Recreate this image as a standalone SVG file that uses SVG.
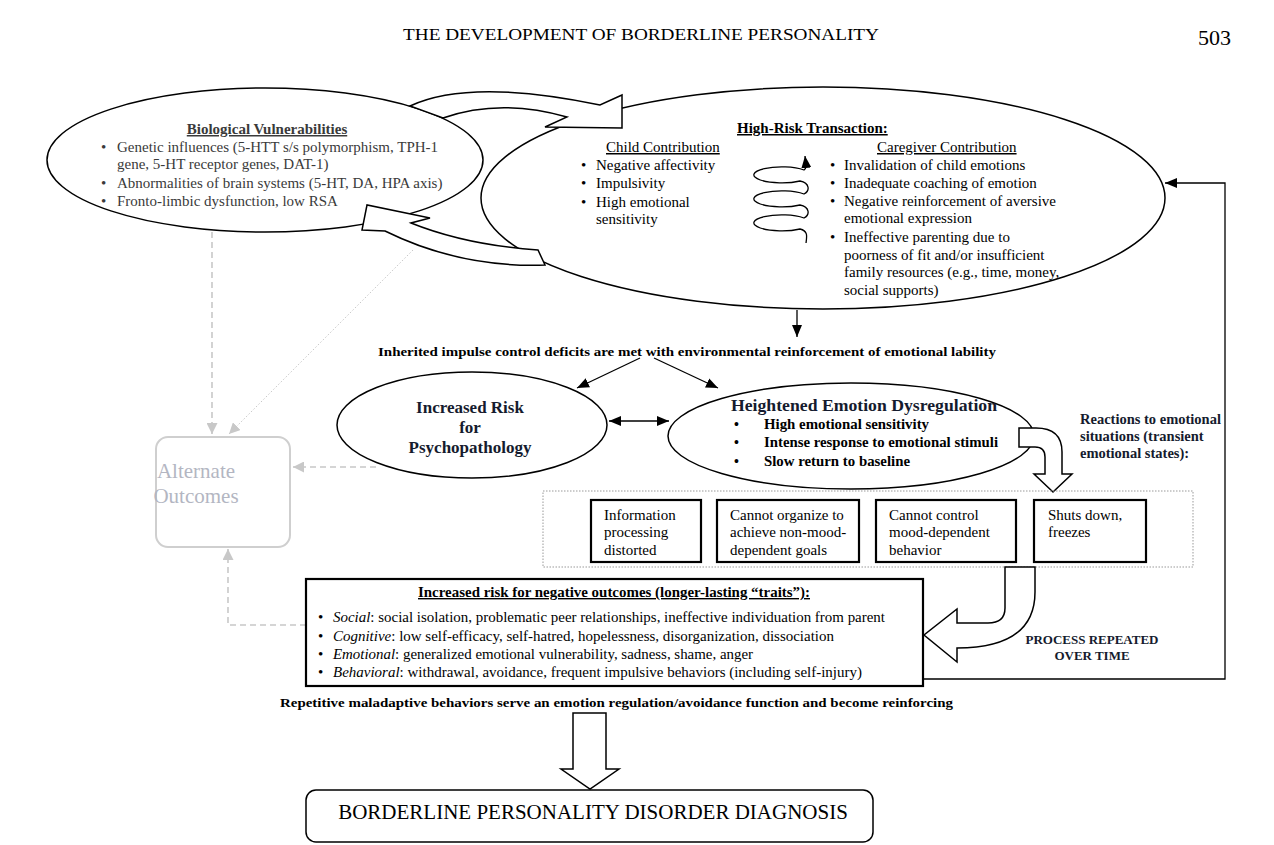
<svg xmlns="http://www.w3.org/2000/svg" width="1274" height="845" viewBox="0 0 1274 845" font-size="15">
<defs>
<marker id="ah" viewBox="0 0 12 10" refX="12" refY="5" markerWidth="12" markerHeight="10" markerUnits="userSpaceOnUse" orient="auto-start-reverse"><path d="M0,0 L12,5 L0,10 z" fill="#000"/></marker>
<marker id="ahg" viewBox="0 0 10 10" refX="10" refY="5" markerWidth="11" markerHeight="11" markerUnits="userSpaceOnUse" orient="auto"><path d="M0,0 L10,5 L0,10 z" fill="#c8c8c8"/></marker>
</defs>
<style>
text{font-family:"Liberation Serif","Times New Roman",serif;fill:#000}
.b{font-weight:bold}
.u{text-decoration:underline}
.i{font-style:italic}
.g{fill:#3a3a3a}
.shape{fill:#fff;stroke:#000;stroke-width:1.5}
.box{fill:#fff;stroke:#000;stroke-width:2.2}
.ln{fill:none;stroke:#000;stroke-width:1.3}
.gd{fill:none;stroke:#c8c8c8;stroke-width:1.6;stroke-dasharray:6 4}
.dk{fill:#151b2e}
.alt{fill:#b3b6c2}
</style>
<rect width="1274" height="845" fill="#fff"/>
<text x="641" y="40" text-anchor="middle" font-size="16" textLength="476" lengthAdjust="spacingAndGlyphs">THE DEVELOPMENT OF BORDERLINE PERSONALITY</text>
<text x="1198" y="45" font-size="22">503</text>

<g id="connectors">
<path class="gd" d="M212,232 L212,434" marker-end="url(#ahg)"/>
<path d="M413,250 L229,434" fill="none" stroke="#c8c8c8" stroke-width="1" stroke-dasharray="1.5 2" marker-end="url(#ahg)"/>
<path class="gd" d="M376,467 L293,467" marker-end="url(#ahg)"/>
<path class="gd" d="M306,625 L228,625 L228,549" marker-end="url(#ahg)"/>
<path class="ln" d="M924,679 L1225,679 L1225,183 L1165,183" marker-end="url(#ah)"/>
<path class="ln" d="M797,310 L797,337" marker-end="url(#ah)"/>
<path class="ln" d="M640,358 L577,388" marker-end="url(#ah)"/>
<path class="ln" d="M654,358 L718,388" marker-end="url(#ah)"/>
<path class="ln" d="M609,421 L669,421" marker-start="url(#ah)" marker-end="url(#ah)"/>
</g>

<g id="bio">
<ellipse class="shape" cx="265" cy="160" rx="218" ry="72"/>
<text x="267" y="134" text-anchor="middle" class="b u g">Biological Vulnerabilities</text>
<text x="101" y="152" class="g">•</text>
<text x="117" y="152" class="g">Genetic influences (5-HTT s/s polymorphism, TPH-1</text>
<text x="117" y="169" class="g">gene, 5-HT receptor genes, DAT-1)</text>
<text x="101" y="188" class="g">•</text>
<text x="117" y="188" class="g">Abnormalities of brain systems (5-HT, DA, HPA axis)</text>
<text x="101" y="206" class="g">•</text>
<text x="117" y="206" class="g">Fronto-limbic dysfunction, low RSA</text>
</g>

<g id="transaction">
<ellipse class="shape" cx="823" cy="198" rx="342" ry="111"/>
<text x="737" y="133" class="b u">High-Risk Transaction:</text>
<text x="606" y="152" class="u">Child Contribution</text>
<text x="581" y="170">•</text><text x="596" y="170">Negative affectivity</text>
<text x="581" y="188">•</text><text x="596" y="188">Impulsivity</text>
<text x="581" y="207">•</text><text x="596" y="207">High emotional</text>
<text x="596" y="224">sensitivity</text>
<path class="ln" d="M806,243 C807,236 808,231 800,229 A28,8 0 1 1 804,218 C810,215 810,207 800,205 A28,8 0 1 1 804,194 C810,191 810,183 800,181 A28,8 0 1 1 804,170 C807,168 806,165 805,156" marker-end="url(#ah)"/>
<text x="877" y="152" class="u">Caregiver Contribution</text>
<text x="830" y="170">•</text><text x="844" y="170">Invalidation of child emotions</text>
<text x="830" y="188">•</text><text x="844" y="188">Inadequate coaching of emotion</text>
<text x="830" y="206">•</text><text x="844" y="206">Negative reinforcement of aversive</text>
<text x="844" y="223">emotional expression</text>
<text x="830" y="242">•</text><text x="844" y="242">Ineffective parenting due to</text>
<text x="844" y="260">poorness of fit and/or insufficient</text>
<text x="844" y="277">family resources (e.g., time, money,</text>
<text x="844" y="295">social supports)</text>
</g>

<g id="cycle-arrows">
<path class="shape" d="M410,106 Q470,78 600,105 L622,95 L622,128 L545,127 L567,117 Q500,98 443,118 Z"/>
<path class="shape" d="M545,265 Q460,268 385,231 L362,230 L367,205 L430,218 L411,223 Q466,245 538,250 Z"/>
</g>

<text x="378" y="356" class="b" font-size="13" textLength="618" lengthAdjust="spacingAndGlyphs">Inherited impulse control deficits are met with environmental reinforcement of emotional lability</text>

<g id="risk">
<ellipse class="shape" cx="472" cy="425" rx="135" ry="53"/>
<text x="470" y="413" text-anchor="middle" class="b dk" font-size="17">Increased Risk</text>
<text x="470" y="433" text-anchor="middle" class="b dk" font-size="17">for</text>
<text x="470" y="453" text-anchor="middle" class="b dk" font-size="17">Psychopathology</text>
</g>

<g id="dysregulation">
<ellipse class="shape" cx="851" cy="436" rx="183" ry="53"/>
<text x="731" y="411" class="b dk" font-size="17.5" textLength="266" lengthAdjust="spacingAndGlyphs">Heightened Emotion Dysregulation</text>
<text x="734" y="429" class="b" font-size="14">•</text><text x="764" y="429" class="b" font-size="14" textLength="165" lengthAdjust="spacingAndGlyphs">High emotional sensitivity</text>
<text x="734" y="447" class="b" font-size="14">•</text><text x="764" y="447" class="b" font-size="14" textLength="234" lengthAdjust="spacingAndGlyphs">Intense response to emotional stimuli</text>
<text x="734" y="466" class="b" font-size="14">•</text><text x="764" y="466" class="b" font-size="14" textLength="146" lengthAdjust="spacingAndGlyphs">Slow return to baseline</text>
<path class="shape" d="M1019,428 L1036,428 Q1062,428 1062,452 L1062,474 L1072,474 L1053,492 L1034,474 L1045,474 L1045,457 Q1045,447 1035,447 L1019,447 Z"/>
</g>

<g id="reactions-label">
<text x="1080" y="424" class="b dk" font-size="14.5">Reactions to emotional</text>
<text x="1080" y="441" class="b dk" font-size="14.5">situations (transient</text>
<text x="1080" y="458" class="b dk" font-size="14.5">emotional states):</text>
</g>

<g id="reactions">
<rect x="543" y="491" width="650" height="76" fill="none" stroke="#999" stroke-width="1" stroke-dasharray="1.5 1.5"/>
<g id="r1"><rect class="box" x="591" y="500" width="110" height="62"/>
<text x="604" y="520">Information</text><text x="604" y="537">processing</text><text x="604" y="555">distorted</text></g>
<g id="r2"><rect class="box" x="717" y="500" width="142" height="62"/>
<text x="730" y="520">Cannot organize to</text><text x="730" y="537">achieve non-mood-</text><text x="730" y="555">dependent goals</text></g>
<g id="r3"><rect class="box" x="876" y="500" width="140" height="62"/>
<text x="889" y="520">Cannot control</text><text x="889" y="537">mood-dependent</text><text x="889" y="555">behavior</text></g>
<g id="r4"><rect class="box" x="1034" y="500" width="112" height="62"/>
<text x="1048" y="520">Shuts down,</text><text x="1048" y="537">freezes</text></g>
</g>

<g id="repeat-arrow">
<path class="shape" d="M1005,567 L1005,608 Q1005,623 988,623 L957,623 L957,609 L924,635 L957,662 L957,648 Q1035,648 1035,592 L1035,567 Z"/>
<text x="1092" y="644" text-anchor="middle" class="b dk" font-size="13">PROCESS REPEATED</text>
<text x="1092" y="660" text-anchor="middle" class="b dk" font-size="13">OVER TIME</text>
</g>

<g id="traits">
<rect class="box" x="306" y="579" width="617" height="107"/>
<text x="614" y="597" text-anchor="middle" class="b u" font-size="14" textLength="392" lengthAdjust="spacingAndGlyphs">Increased risk for negative outcomes (longer-lasting “traits”):</text>
<text x="318" y="622">•</text><text x="333" y="622" font-size="14" textLength="552" lengthAdjust="spacingAndGlyphs"><tspan class="i">Social</tspan>: social isolation, problematic peer relationships, ineffective individuation from parent</text>
<text x="318" y="641">•</text><text x="333" y="641" font-size="14" textLength="501" lengthAdjust="spacingAndGlyphs"><tspan class="i">Cognitive</tspan>: low self-efficacy, self-hatred, hopelessness, disorganization, dissociation</text>
<text x="318" y="659">•</text><text x="333" y="659" font-size="14" textLength="420" lengthAdjust="spacingAndGlyphs"><tspan class="i">Emotional</tspan>: generalized emotional vulnerability, sadness, shame, anger</text>
<text x="318" y="677">•</text><text x="333" y="677" font-size="14" textLength="529" lengthAdjust="spacingAndGlyphs"><tspan class="i">Behavioral</tspan>: withdrawal, avoidance, frequent impulsive behaviors (including self-injury)</text>
</g>

<text x="280" y="707" class="b" font-size="13" textLength="673" lengthAdjust="spacingAndGlyphs">Repetitive maladaptive behaviors serve an emotion regulation/avoidance function and become reinforcing</text>

<g id="down-arrow">
<path class="shape" d="M573,713 L606,713 L606,769 L619,769 L590,789 L561,769 L573,769 Z"/>
</g>

<g id="alternate">
<rect x="156" y="437" width="134" height="110" rx="12" fill="#fff" stroke="#cfcfcf" stroke-width="2"/>
<text x="196" y="478" text-anchor="middle" font-size="21" class="alt">Alternate</text>
<text x="196" y="503" text-anchor="middle" font-size="21" class="alt">Outcomes</text>
</g>

<g id="bpd">
<rect x="306" y="790" width="567" height="52" rx="10" fill="#fff" stroke="#000" stroke-width="1.5"/>
<text x="593" y="819" text-anchor="middle" font-size="21">BORDERLINE PERSONALITY DISORDER DIAGNOSIS</text>
</g>
</svg>
